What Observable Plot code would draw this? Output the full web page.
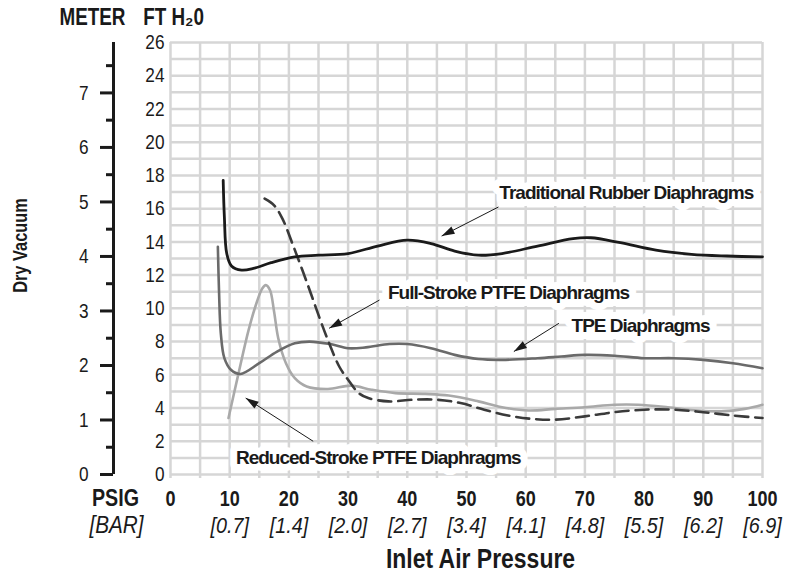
<!DOCTYPE html>
<html><head><meta charset="utf-8">
<script src="https://cdn.jsdelivr.net/npm/d3@7"></script>
<script src="https://cdn.jsdelivr.net/npm/@observablehq/plot@0.6"></script>
<style>
html,body{margin:0;padding:0;background:#fff;}
</style></head><body><div id="chart"></div>
<script>
// Inlet air pressure (PSIG) vs dry vacuum (FT H2O)
const traditional = [[8.9,17.7],[9.1,15.5],[9.5,13.3],[10.3,12.55],[12.0,12.3],[14,12.4],[17,12.75],[21,13.1],[25,13.2],[30,13.3],[35,13.75],[40,14.1],[44,13.9],[48,13.45],[52,13.2],[56,13.3],[62,13.75],[68,14.2],[71,14.25],[76,13.95],[82,13.5],[88,13.25],[94,13.15],[100,13.1]];
const fullStroke = [[15.9,16.6],[17.5,16.2],[18.9,15.4],[20.8,13.7],[23.1,11.5],[25.3,9.3],[26.8,7.9],[28.5,6.5],[30,5.7],[31.8,4.9],[33.4,4.6],[36.8,4.4],[41,4.5],[45,4.5],[49,4.3],[53,3.9],[57,3.55],[61,3.35],[65,3.3],[70,3.5],[75,3.75],[80,3.9],[85,3.9],[90,3.75],[95,3.55],[100,3.4]];
const tpe = [[8.0,13.7],[8.2,11.0],[8.5,8.5],[9.1,7.0],[10.2,6.3],[11.8,6.05],[15,6.7],[18,7.4],[21,7.9],[23.5,8.0],[27,7.85],[30,7.6],[33,7.65],[37,7.85],[40,7.85],[44,7.6],[48,7.2],[52,6.95],[56,6.9],[62,7.0],[66,7.1],[70,7.2],[75,7.15],[80,7.0],[85,7.0],[90,6.9],[95,6.7],[100,6.4]];
const reducedStroke = [[9.8,3.4],[11.5,6.1],[13.2,8.7],[14.6,10.4],[15.5,11.2],[16.1,11.4],[16.8,11.1],[17.5,9.8],[18.2,8.2],[19.5,6.7],[21,5.8],[23,5.3],[26.6,5.15],[30.5,5.35],[34,5.1],[38,4.9],[43,4.85],[47,4.75],[52,4.4],[56,4.05],[60.5,3.85],[65,3.95],[70,4.05],[75,4.2],[79,4.2],[84,4.05],[89,3.85],[93,3.8],[97,3.95],[100,4.2]];

// Annotations: label position and arrow (start -> tip), in PSIG / FT H2O
const labelNames = ["Traditional Rubber Diaphragms","Full-Stroke PTFE Diaphragms","TPE Diaphragms","Reduced-Stroke PTFE Diaphragms"];
const labelX = [77.0, 57.1, 79.4, 35.1];
const labelY = [16.97, 10.95, 8.97, 1.02];
const arrowX1 = [55.4, 35.3, 65.6, 24.1];
const arrowY1 = [16.1, 10.5, 9.1, 2.0];
const arrowX2 = [45.8, 26.8, 58.0, 12.7];
const arrowY2 = [14.35, 8.8, 7.4, 4.6];

// Axes
const psiTicks = [0,10,20,30,40,50,60,70,80,90,100];
const barLabels = ["","[0.7]","[1.4]","[2.0]","[2.7]","[3.4]","[4.1]","[4.8]","[5.5]","[6.2]","[6.9]"];
const ftTicks = [0,2,4,6,8,10,12,14,16,18,20,22,24,26];
const meterMajor = [0,1,2,3,4,5,6,7];
const meterMinor = [0.5,1.5,2.5,3.5,4.5,5.5,6.5,7.5];
const gridXValues = d3.range(0,101,5);
const gridYValues = d3.range(0,27,1);
const FT_PER_M = 3.28084;

const W=791, H=577, ML=170, MR=29, MT=42, MB=103;
const xDomain=[0,100], yDomain=[0,26];
const kx=(W-ML-MR)/(xDomain[1]-xDomain[0]), ky=(H-MT-MB)/(yDomain[1]-yDomain[0]);

const annotations = labelNames.map((name,i)=>({name, x:labelX[i], y:labelY[i], x1:arrowX1[i], y1:arrowY1[i], x2:arrowX2[i], y2:arrowY2[i]}));
const headAngle = a => Math.atan2(-(a.y2-a.y1)*ky, (a.x2-a.x1)*kx)*180/Math.PI + 90;
const headSymbol = {draw(ctx){ ctx.moveTo(0,0); ctx.lineTo(4,13); ctx.lineTo(-4,13); ctx.closePath(); }};

const SANS = "'Liberation Sans',Arial,Helvetica,sans-serif";
const P = d=>d[0], V = d=>d[1];
const C = {textAnchor: "middle", lineAnchor: "middle"};

const chart = Plot.plot({
  width: W, height: H,
  marginLeft: ML, marginRight: MR, marginTop: MT, marginBottom: MB,
  x: {domain: xDomain, axis: null},
  y: {domain: yDomain},
  style: {fontFamily: SANS, fontSize: "21px", color: "#1a1a1a", background: "#fff", overflow: "visible"},
  marks: [
    Plot.ruleX(gridXValues, {stroke: "#d6d6d6", strokeWidth: 2.5, insetBottom: -4}),
    Plot.ruleY(gridYValues, {stroke: "#d6d6d6", strokeWidth: 2.5}),
    // FT H2O axis labels
    Plot.axisY({ticks: ftTicks, tickSize: 0, tickPadding: 6, fontSize: 21}),
    // METER axis
    Plot.ruleX([0], {dx: -57, stroke: "#1a1a1a", strokeWidth: 3}),
    Plot.axisY({ticks: meterMajor.map(m=>m*FT_PER_M), tickFormat: d=>String(Math.round(d/FT_PER_M)), dx: -57, tickSize: 13, tickPadding: 12, strokeWidth: 3, fontSize: 21}),
    Plot.axisY({ticks: meterMinor.map(m=>m*FT_PER_M), tickFormat: ()=>"", dx: -57, tickSize: 7, strokeWidth: 3}),
    // curves
    Plot.line(reducedStroke, {x: P, y: V, curve: "catmull-rom", stroke: "#a9a9a9", strokeWidth: 2.6}),
    Plot.line(tpe, {x: P, y: V, curve: "catmull-rom", stroke: "#6a6a6a", strokeWidth: 2.6}),
    Plot.line(fullStroke, {x: P, y: V, curve: "catmull-rom", stroke: "#3a3a3a", strokeWidth: 2.6, strokeDasharray: "13,7"}),
    Plot.line(traditional, {x: P, y: V, curve: "catmull-rom", stroke: "#1a1a1a", strokeWidth: 2.8}),
    // annotations
    Plot.text(annotations, {x: "x", y: "y", text: "name", ...C, fontWeight: "bold", fontSize: 19, fill: "#1a1a1a", stroke: "#fff", strokeWidth: 14}),
    Plot.link(annotations, {x1: "x1", y1: "y1", x2: "x2", y2: "y2", stroke: "#1a1a1a", strokeWidth: 1}),
    Plot.dot(annotations, {x: "x2", y: "y2", symbol: headSymbol, fill: "#1a1a1a", rotate: headAngle}),
    // x axis labels
    Plot.text(psiTicks, {x: d=>d, frameAnchor: "bottom", ...C, dy: 24, text: d=>String(d), fontWeight: "bold", fontSize: 22}),
    Plot.text(psiTicks, {x: d=>d, frameAnchor: "bottom", ...C, dy: 51, text: (d,i)=>barLabels[i], fontStyle: "italic", fontSize: 22}),
    Plot.text(["PSIG"], {frameAnchor: "bottom-left", ...C, dx: -55, dy: 24, fontWeight: "bold", fontSize: 24}),
    Plot.text(["[BAR]"], {frameAnchor: "bottom-left", ...C, dx: -54, dy: 51, fontStyle: "italic", fontSize: 23}),
    Plot.text(["Inlet Air Pressure"], {frameAnchor: "bottom", ...C, dx: 14, dy: 85, fontWeight: "bold", fontSize: 28}),
    Plot.text(["METER"], {frameAnchor: "top-left", ...C, dx: -78, dy: -25, fontWeight: "bold", fontSize: 23}),
    Plot.text(["FT H₂0"], {frameAnchor: "top-left", ...C, dx: 3, dy: -25, fontWeight: "bold", fontSize: 23}),
    Plot.text(["Dry Vacuum"], {frameAnchor: "left", ...C, dx: -150, dy: -13, rotate: -90, fontWeight: "bold", fontSize: 20})
  ]
});

// Typography: condensed look for axis texts, tight tracking for the callouts
const italicSet = new Set([...barLabels.filter(s=>s), "[BAR]"]);
const annotSet = new Set(labelNames);
chart.querySelectorAll("text").forEach(t => {
  const s = t.textContent;
  if (!s) return;
  if (annotSet.has(s)) { t.style.letterSpacing = "-1px"; return; }
  const k = italicSet.has(s) ? 0.9 : 0.82;
  let tr = t.getAttribute("transform") || "";
  const x = +(t.getAttribute("x") || 0), y = +(t.getAttribute("y") || 0);
  if (x || y) { t.removeAttribute("x"); t.removeAttribute("y"); tr = `translate(${x},${y}) ` + tr; }
  t.setAttribute("transform", (tr + ` scale(${k},1)`).trim());
});
document.getElementById("chart").append(chart);
</script></body></html>
